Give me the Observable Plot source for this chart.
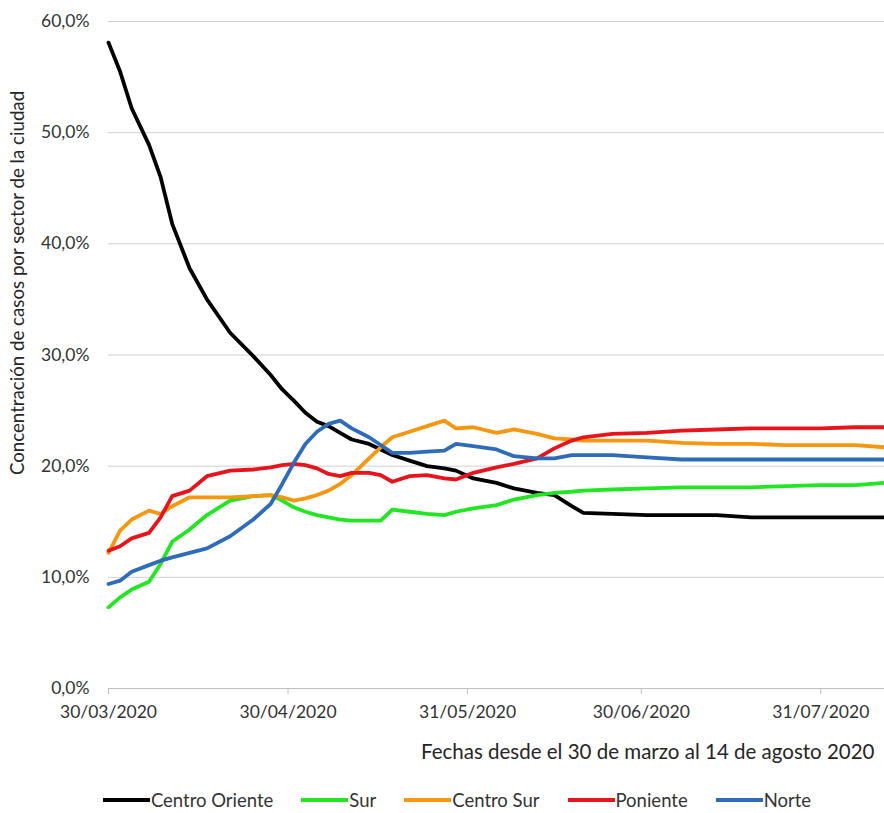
<!DOCTYPE html>
<html>
<head>
<meta charset="utf-8">
<script src="https://cdn.jsdelivr.net/npm/d3@7"></script>
<script src="https://cdn.jsdelivr.net/npm/@observablehq/plot@0.6"></script>
<style>
  body { margin: 0; background: #fff; font-family: Lato, "Open Sans", sans-serif; }
  #chart svg { display: block; }
  .legend { display: flex; justify-content: center; align-items: center; padding-left: 30px; margin-top: 19px; font-size: 18.5px; line-height: 22px; color: #333; height: 22px; }
  .legend .item { display: flex; align-items: center; margin: 0 14px; }
  .legend .sw { width: 47px; height: 4px; margin-right: 1px; }
</style>
</head>
<body>
<div id="chart"></div>
<div class="legend" id="legend"></div>
<script>
const dates = ["2020-03-30","2020-04-01","2020-04-03","2020-04-06","2020-04-08","2020-04-10","2020-04-13","2020-04-16","2020-04-20","2020-04-24","2020-04-27","2020-04-29","2020-05-01","2020-05-03","2020-05-05","2020-05-07","2020-05-09","2020-05-11","2020-05-14","2020-05-16","2020-05-18","2020-05-21","2020-05-24","2020-05-27","2020-05-29","2020-06-01","2020-06-05","2020-06-08","2020-06-12","2020-06-15","2020-06-18","2020-06-20","2020-06-25","2020-07-01","2020-07-07","2020-07-13","2020-07-19","2020-07-25","2020-07-31","2020-08-06","2020-08-11"];

const centroOriente = [58.1,55.5,52.2,48.9,46.0,41.8,37.8,35.0,32.0,29.9,28.2,26.9,25.9,24.8,24.0,23.6,23.0,22.4,22.0,21.5,21.0,20.5,20.0,19.8,19.6,18.9,18.5,18.0,17.6,17.4,16.4,15.8,15.7,15.6,15.6,15.6,15.4,15.4,15.4,15.4,15.4];
const sur = [7.3,8.2,8.9,9.6,11.2,13.2,14.3,15.6,16.9,17.3,17.4,16.9,16.3,15.9,15.6,15.4,15.2,15.1,15.1,15.1,16.1,15.9,15.7,15.6,15.9,16.2,16.5,17.0,17.4,17.6,17.7,17.8,17.9,18.0,18.1,18.1,18.1,18.2,18.3,18.3,18.5];
const centroSur = [12.2,14.2,15.2,16.0,15.7,16.4,17.2,17.2,17.2,17.3,17.4,17.2,16.9,17.1,17.4,17.8,18.4,19.2,20.7,21.7,22.6,23.1,23.6,24.1,23.4,23.5,23.0,23.3,22.9,22.5,22.4,22.3,22.3,22.3,22.1,22.0,22.0,21.9,21.9,21.9,21.7];
const poniente = [12.4,12.8,13.5,14.0,15.4,17.3,17.8,19.1,19.6,19.7,19.9,20.1,20.2,20.1,19.8,19.3,19.1,19.4,19.4,19.2,18.6,19.1,19.2,18.9,18.8,19.4,19.9,20.2,20.7,21.6,22.3,22.6,22.9,23.0,23.2,23.3,23.4,23.4,23.4,23.5,23.5];
const norte = [9.4,9.7,10.5,11.1,11.5,11.8,12.2,12.6,13.7,15.2,16.6,18.4,20.3,22.0,23.1,23.8,24.1,23.4,22.6,21.9,21.2,21.2,21.3,21.4,22.0,21.8,21.5,20.9,20.7,20.7,21.0,21.0,21.0,20.8,20.6,20.6,20.6,20.6,20.6,20.6,20.6];

const seriesNames = ["Centro Oriente","Sur","Centro Sur","Poniente","Norte"];
const seriesColors = ["#000000","#22e622","#f7960f","#e8141c","#2e6cba"];
const seriesValues = [centroOriente, sur, centroSur, poniente, norte];

const xTicks = ["2020-03-30","2020-04-30","2020-05-31","2020-06-30","2020-07-31"];
const yTicks = [0,10,20,30,40,50,60];
const yLabel = "Concentración de casos por sector de la ciudad";
const xLabel = "Fechas desde el 30 de marzo al 14 de agosto 2020";

const parse = d3.utcParse("%Y-%m-%d");
const rows = [];
seriesNames.forEach((name, i) => {
  dates.forEach((d, j) => rows.push({serie: name, date: parse(d), value: seriesValues[i][j]}));
});

const fmtPct = v => v.toFixed(1).replace(".", ",") + "%";

const chart = Plot.plot({
  width: 884,
  height: 770,
  marginLeft: 108,
  marginRight: 0,
  marginTop: 21,
  marginBottom: 82,
  style: {fontFamily: "Lato, 'Open Sans', sans-serif", fontSize: "17.5px", color: "#333", background: "#fff"},
  x: {type: "utc", domain: [parse("2020-03-30"), parse("2020-08-11")]},
  y: {domain: [0, 60]},
  color: {domain: seriesNames, range: seriesColors},
  marks: [
    Plot.ruleY(yTicks.filter(t => t > 0), {stroke: "#d0d0d0", strokeWidth: 1}),
    Plot.ruleY([0], {stroke: "#bfbfbf", strokeWidth: 1}),
    Plot.axisY({ticks: yTicks, tickSize: 0, tickPadding: 19, tickFormat: fmtPct, label: null, fontSize: 17.5}),
    Plot.axisX({ticks: xTicks.map(parse), tickSize: 6, tickPadding: 11, tickFormat: d3.utcFormat("%d/%m/%Y"), label: null, stroke: "#bfbfbf", fontSize: 17.5}),
    Plot.lineY(rows, {x: "date", y: "value", z: "serie", stroke: "serie", strokeWidth: 3.8, strokeLinejoin: "round", strokeLinecap: "round"}),
    Plot.text([yLabel], {frameAnchor: "left", dx: -90, dy: -72, rotate: -90, textAnchor: "middle", lineAnchor: "middle", fontSize: 18.7, fill: "#262626"}),
    Plot.text([xLabel], {frameAnchor: "bottom-right", dx: -10, dy: 64, textAnchor: "end", lineAnchor: "middle", fontSize: 20.5, fill: "#262626"})
  ]
});
document.getElementById("chart").appendChild(chart);

const legend = document.getElementById("legend");
seriesNames.forEach((name, i) => {
  const item = document.createElement("div");
  item.className = "item";
  const sw = document.createElement("span");
  sw.className = "sw";
  sw.style.background = seriesColors[i];
  const lab = document.createElement("span");
  lab.textContent = name;
  item.appendChild(sw);
  item.appendChild(lab);
  legend.appendChild(item);
});
</script>
</body>
</html>
